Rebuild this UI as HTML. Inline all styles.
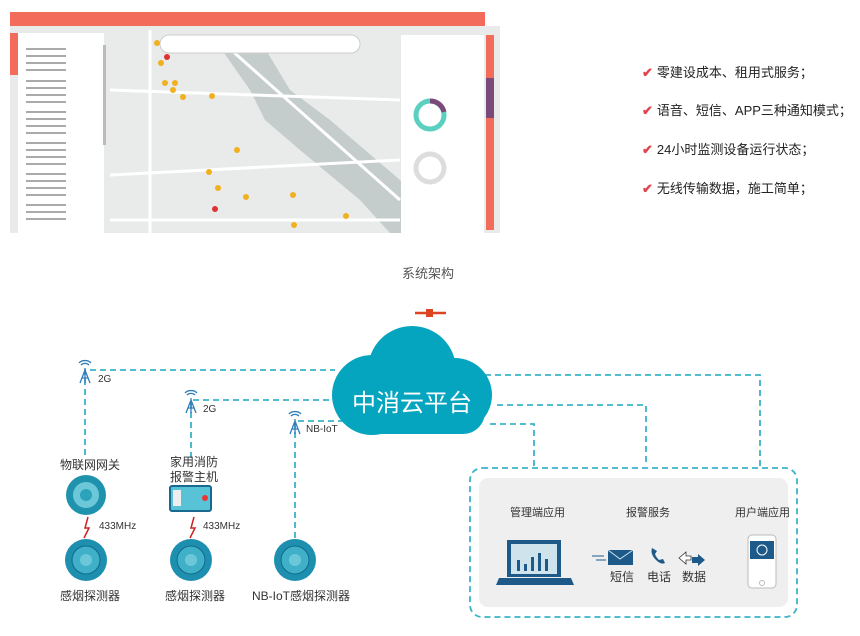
<!DOCTYPE html>
<html><head><meta charset="utf-8"><style>
body{margin:0;width:860px;height:636px;background:#fff;position:relative;overflow:hidden;font-family:"Liberation Sans","Noto Sans CJK SC",sans-serif}
.t{position:absolute;white-space:nowrap}
.b{position:absolute;left:642px;font-size:13px;color:#222;white-space:nowrap}
.b span{color:#e0454f;font-weight:bold;margin-right:4px}
</style></head><body>
<svg width="860" height="636" style="position:absolute;left:0;top:0">
<rect x="10" y="12" width="490" height="221" fill="#e9ebeb"/>
<path d="M215 40 L250 90 L265 120 L300 150 L360 200 L390 233 L440 233 L400 180 L330 120 L290 90 L260 40 Z" fill="#c4cccc"/>
<path d="M110 90 L400 100 M150 30 L150 233 M110 175 L400 160 M220 40 L400 200 M110 220 L400 220" stroke="#fff" stroke-width="3" fill="none"/>
<rect x="10" y="12" width="475" height="14" fill="#f26b5b"/>
<rect x="485" y="12" width="15" height="14" fill="#fff"/>
<rect x="10" y="33" width="8" height="42" fill="#f26b5b"/>
<rect x="18" y="33" width="86" height="200" fill="#fff"/>
<rect x="103" y="45" width="3" height="100" fill="#bbb"/>
<g fill="#aaa"><rect x="26" y="48" width="40" height="2"/><rect x="26" y="55" width="40" height="2"/><rect x="26" y="62" width="40" height="2"/><rect x="26" y="69" width="40" height="2"/><rect x="26" y="80" width="40" height="2"/><rect x="26" y="87" width="40" height="2"/><rect x="26" y="94" width="40" height="2"/><rect x="26" y="101" width="40" height="2"/><rect x="26" y="111" width="40" height="2"/><rect x="26" y="118" width="40" height="2"/><rect x="26" y="125" width="40" height="2"/><rect x="26" y="132" width="40" height="2"/><rect x="26" y="142" width="40" height="2"/><rect x="26" y="149" width="40" height="2"/><rect x="26" y="156" width="40" height="2"/><rect x="26" y="163" width="40" height="2"/><rect x="26" y="173" width="40" height="2"/><rect x="26" y="180" width="40" height="2"/><rect x="26" y="187" width="40" height="2"/><rect x="26" y="194" width="40" height="2"/><rect x="26" y="204" width="40" height="2"/><rect x="26" y="211" width="40" height="2"/><rect x="26" y="218" width="40" height="2"/></g>
<rect x="160" y="35" width="200" height="18" rx="9" fill="#fff" stroke="#ccc"/>
<rect x="401" y="35" width="83" height="198" fill="#fff"/>
<circle cx="430" cy="115" r="14" fill="none" stroke="#5cd0c0" stroke-width="5"/>
<path d="M430 101 A14 14 0 0 1 444 112" fill="none" stroke="#7a4a7a" stroke-width="5"/>
<circle cx="430" cy="168" r="14" fill="none" stroke="#ddd" stroke-width="5"/>
<rect x="486" y="35" width="8" height="195" fill="#f26b5b"/>
<rect x="486" y="78" width="8" height="40" fill="#7a4a7a"/>
<g fill="#f0b020"><circle cx="157" cy="43" r="3"/><circle cx="161" cy="63" r="3"/><circle cx="165" cy="83" r="3"/><circle cx="175" cy="83" r="3"/><circle cx="173" cy="90" r="3"/><circle cx="183" cy="97" r="3"/><circle cx="212" cy="96" r="3"/><circle cx="237" cy="150" r="3"/><circle cx="209" cy="172" r="3"/><circle cx="218" cy="188" r="3"/><circle cx="246" cy="197" r="3"/><circle cx="293" cy="195" r="3"/><circle cx="346" cy="216" r="3"/><circle cx="294" cy="225" r="3"/></g>
<circle cx="167" cy="57" r="3" fill="#d33"/><circle cx="215" cy="209" r="3" fill="#d33"/>
<path d="M415 313 H446" stroke="#d42" stroke-width="2.5"/><rect x="426" y="309" width="7" height="8" fill="#d42"/>
<g stroke="#3bb3c8" stroke-width="1.8" fill="none" stroke-dasharray="6,4">
<path d="M85 455 V370 H335"/>
<path d="M191 458 V400 H335"/>
<path d="M295 538 V421 H345"/>
<path d="M485 375 H760 V468"/>
<path d="M497 405 H646 V466"/>
<path d="M490 424 H534 V468"/>
<rect x="470" y="468" width="327" height="149" rx="12"/>
<path d="M566 511 H620 M668 511 H732"/>
</g>
<g fill="#3bb3c8"><path d="M564 511 l4 -3 v6z M622 511 l-4 -3 v6z M666 511 l4 -3 v6z M734 511 l-4 -3 v6z"/></g>
<rect x="479" y="478" width="309" height="129" rx="9" fill="#efefef"/>
<g fill="#06a5bf"><circle cx="412" cy="370" r="44"/><circle cx="372" cy="395" r="40"/><circle cx="455" cy="395" r="37"/><rect x="345" y="390" width="140" height="44" rx="22"/></g>
<g stroke="#2f7db8" stroke-width="1.3" fill="none">
<path d="M80 383 L85 370 L90 383 M82 378 H88 M85 368 V383"/><path d="M81 365 a5 4 0 0 1 8 0 M79 363 a7 5 0 0 1 12 0"/>
<path d="M186 413 L191 400 L196 413 M188 408 H194 M191 398 V413"/><path d="M187 395 a5 4 0 0 1 8 0 M185 393 a7 5 0 0 1 12 0"/>
<path d="M290 434 L295 421 L300 434 M292 429 H298 M295 419 V434"/><path d="M291 416 a5 4 0 0 1 8 0 M289 414 a7 5 0 0 1 12 0"/>
</g>
<circle cx="86" cy="495" r="20" fill="#1f93ad"/><circle cx="86" cy="495" r="13" fill="#6cc8d8"/><circle cx="86" cy="495" r="6" fill="#2aa3bb"/>
<rect x="170" y="486" width="41" height="25" rx="2" fill="#58c3d6" stroke="#1a6a90" stroke-width="2"/><rect x="173" y="490" width="8" height="16" fill="#eee"/>
<circle cx="205" cy="498" r="3" fill="#e33"/>
<g fill="none" stroke="#c22" stroke-width="1.5"><path d="M88 517 L85 528 L89 528 L84 538"/><path d="M194 517 L191 528 L195 528 L190 538"/></g>
<g><circle cx="86" cy="560" r="21" fill="#1f8fb0"/><circle cx="86" cy="560" r="14" fill="#3fb0c8" stroke="#106a8a"/><circle cx="86" cy="560" r="6" fill="#6cc8d8"/>
<circle cx="191" cy="560" r="21" fill="#1f8fb0"/><circle cx="191" cy="560" r="14" fill="#3fb0c8" stroke="#106a8a"/><circle cx="191" cy="560" r="6" fill="#6cc8d8"/>
<circle cx="295" cy="560" r="21" fill="#1f8fb0"/><circle cx="295" cy="560" r="14" fill="#3fb0c8" stroke="#106a8a"/><circle cx="295" cy="560" r="6" fill="#6cc8d8"/></g>
<rect x="507" y="540" width="54" height="37" fill="#1d5a8a"/><rect x="511" y="544" width="46" height="30" fill="#cfe3ec"/>
<g fill="#1d5a8a"><rect x="517" y="560" width="3" height="11"/><rect x="524" y="564" width="3" height="7"/><rect x="531" y="557" width="3" height="14"/><rect x="538" y="553" width="3" height="18"/><rect x="545" y="559" width="3" height="12"/></g>
<path d="M499 578 H571 L574 585 H496Z" fill="#1d5a8a"/>
<rect x="608" y="550" width="25" height="15" fill="#1d5a8a"/><path d="M608 550 L620 559 L633 550" stroke="#cfe3ec" fill="none"/>
<path d="M592 556 h12 M596 560 h10" stroke="#1d5a8a"/>
<path d="M652 548 q-2 6 4 12 q5 5 9 3 l-2 -4 l-4 1 q-3 -3 -4 -6 l2 -3 z" fill="#1d5a8a"/>
<path d="M679 558 l7 -6 v4 h5 v4 h-5 v4z" fill="#fff" stroke="#333" stroke-width=".8"/><path d="M705 560 l-7 -6 v3 h-6 v6 h6 v3z" fill="#1d5a8a"/>
<rect x="748" y="535" width="28" height="53" rx="4" fill="#fff" stroke="#bbb"/><rect x="750" y="541" width="24" height="18" fill="#1d5a8a"/><circle cx="762" cy="550" r="5" fill="none" stroke="#fff"/>
<circle cx="762" cy="583" r="2.5" fill="none" stroke="#bbb"/>
</svg>
<div class="t" style="left:402px;top:263px;font-size:13px;color:#555">系统架构</div>
<div class="t" style="left:352px;top:383px;font-size:24px;color:#fff;letter-spacing:0px">中消云平台</div>
<div class="t" style="left:98px;top:374px;font-size:10px;color:#333">2G</div>
<div class="t" style="left:203px;top:404px;font-size:10px;color:#333">2G</div>
<div class="t" style="left:306px;top:424px;font-size:10px;color:#333">NB-IoT</div>
<div class="t" style="left:60px;top:456px;font-size:12px;color:#333">物联网网关</div>
<div class="t" style="left:170px;top:455px;font-size:12px;color:#333;line-height:15px">家用消防<br>报警主机</div>
<div class="t" style="left:99px;top:521px;font-size:10px;color:#333">433MHz</div>
<div class="t" style="left:203px;top:521px;font-size:10px;color:#333">433MHz</div>
<div class="t" style="left:60px;top:587px;font-size:12px;color:#333">感烟探测器</div>
<div class="t" style="left:165px;top:587px;font-size:12px;color:#333">感烟探测器</div>
<div class="t" style="left:252px;top:587px;font-size:12px;color:#333">NB-IoT感烟探测器</div>
<div class="t" style="left:510px;top:504px;font-size:11px;color:#333">管理端应用</div>
<div class="t" style="left:626px;top:504px;font-size:11px;color:#333">报警服务</div>
<div class="t" style="left:735px;top:504px;font-size:11px;color:#333">用户端应用</div>
<div class="t" style="left:610px;top:568px;font-size:12px;color:#333">短信</div>
<div class="t" style="left:647px;top:568px;font-size:12px;color:#333">电话</div>
<div class="t" style="left:682px;top:568px;font-size:12px;color:#333">数据</div>
<div class="b" style="top:62px"><span>✔</span>零建设成本、租用式服务；</div>
<div class="b" style="top:100px"><span>✔</span>语音、短信、APP三种通知模式；</div>
<div class="b" style="top:139px"><span>✔</span>24小时监测设备运行状态；</div>
<div class="b" style="top:178px"><span>✔</span>无线传输数据，施工简单；</div>
</body></html>
